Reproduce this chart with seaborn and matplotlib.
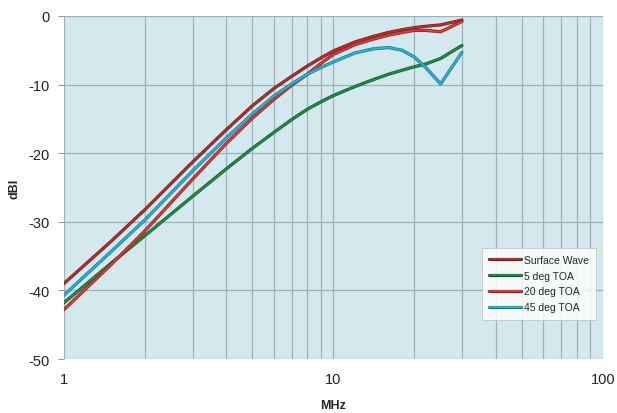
import numpy as np
import pandas as pd
import matplotlib
matplotlib.use("Agg")
import matplotlib.pyplot as plt
import matplotlib.patheffects as pe
from matplotlib.ticker import FixedLocator, NullFormatter, FixedFormatter
from matplotlib.lines import Line2D
import seaborn as sns

freq = [1, 1.5, 2, 3, 4, 5, 6, 7, 8, 9, 10, 12, 14, 16, 18, 20, 22, 25, 30]
surface_wave = [-39.0, -32.8, -28.2, -21.3, -16.6, -13.1, -10.6, -8.8, -7.3, -6.1, -5.1,
                -3.8, -3.0, -2.4, -2.0, -1.7, -1.5, -1.3, -0.6]
deg5 = [-41.8, -36.0, -32.0, -26.3, -22.3, -19.3, -17.0, -15.1, -13.6, -12.5, -11.6,
        -10.3, -9.3, -8.5, -7.9, -7.4, -7.0, -6.2, -4.3]
deg20 = [-42.8, -36.2, -31.3, -23.8, -18.6, -14.9, -12.2, -10.1, -8.5, -6.9, -5.6,
         -4.2, -3.4, -2.8, -2.4, -2.1, -2.1, -2.3, -0.8]
deg45 = [-40.7, -34.3, -29.7, -22.6, -17.8, -14.3, -11.7, -9.9, -8.5, -7.5, -6.7,
         -5.4, -4.8, -4.6, -5.0, -6.0, -7.5, -9.9, -5.3]

series_names = ["Surface Wave", "5 deg TOA", "20 deg TOA", "45 deg TOA"]
series_values = [surface_wave, deg5, deg20, deg45]
colors = ["#b8302c", "#1f8f48", "#e23a36", "#2cb4d6"]
edges = ["#6e1c1a", "#0f5529", "#8c1e1c", "#17748c"]

x_ticks = [1, 10, 100]
x_ticklabels = ["1", "10", "100"]
y_ticks = [0, -10, -20, -30, -40, -50]

rows = []
for name, vals in zip(series_names, series_values):
    for f, v in zip(freq, vals):
        rows.append({"MHz": f, "dBI": v, "series": name})
df = pd.DataFrame(rows)

sns.set_theme(style="white")
plt.rcParams["font.family"] = ["Liberation Sans", "DejaVu Sans"]

fig = plt.figure(figsize=(6.17, 4.14), dpi=100)
ax = fig.add_axes([0.1037, 0.1304, 0.8733, 0.8286])

sns.lineplot(data=df, x="MHz", y="dBI", hue="series", hue_order=series_names,
             palette=dict(zip(series_names, colors)), ax=ax, linewidth=1.3,
             sort=False, legend=False)

for line, ec in zip(ax.get_lines(), edges):
    line.set_solid_joinstyle("round")
    line.set_path_effects([pe.Stroke(linewidth=2.3, foreground=ec), pe.Normal()])

ax.set_xscale("log")
ax.set_xlim(1, 100)
ax.set_ylim(-50, 0)
ax.set_facecolor("#d3e9ee")

minor = [m * d for d in (1, 10) for m in range(2, 10)]
ax.xaxis.set_major_locator(FixedLocator(x_ticks))
ax.xaxis.set_major_formatter(FixedFormatter(x_ticklabels))
ax.xaxis.set_minor_locator(FixedLocator(minor))
ax.xaxis.set_minor_formatter(NullFormatter())
ax.set_yticks(y_ticks)
ax.set_yticklabels([str(v) for v in y_ticks])

ax.grid(True, which="major", axis="both", color="#9db2b8", linewidth=0.9)
ax.grid(True, which="minor", axis="x", color="#9db2b8", linewidth=0.9)

for s in ax.spines.values():
    s.set_visible(False)
ax.tick_params(axis="y", which="major", left=True, length=4, width=0.8, color="#999999",
               labelsize=10.5, labelcolor="#222222", pad=6)
ax.tick_params(axis="x", which="both", bottom=False, labelsize=10.5, labelcolor="#222222", pad=3)

ax.set_xlabel("MHz", fontsize=9, fontweight="bold", labelpad=10)
ax.set_ylabel("dBI", fontsize=9, fontweight="bold", labelpad=6)

handles = [Line2D([0], [0], color=c, linewidth=1.3,
                  path_effects=[pe.Stroke(linewidth=2.3, foreground=e), pe.Normal()])
           for c, e in zip(colors, edges)]
leg = ax.legend(handles, series_names, loc="lower right", bbox_to_anchor=(0.997, 0.1),
                fontsize=7.5, frameon=True, fancybox=False, handlelength=3.0,
                handletextpad=0.3, labelspacing=0.55, borderpad=0.7)
leg.get_frame().set_facecolor("white")
leg.get_frame().set_edgecolor("#bbbbbb")
leg.get_frame().set_linewidth(0.6)

fig.savefig("out.png", dpi=100)
